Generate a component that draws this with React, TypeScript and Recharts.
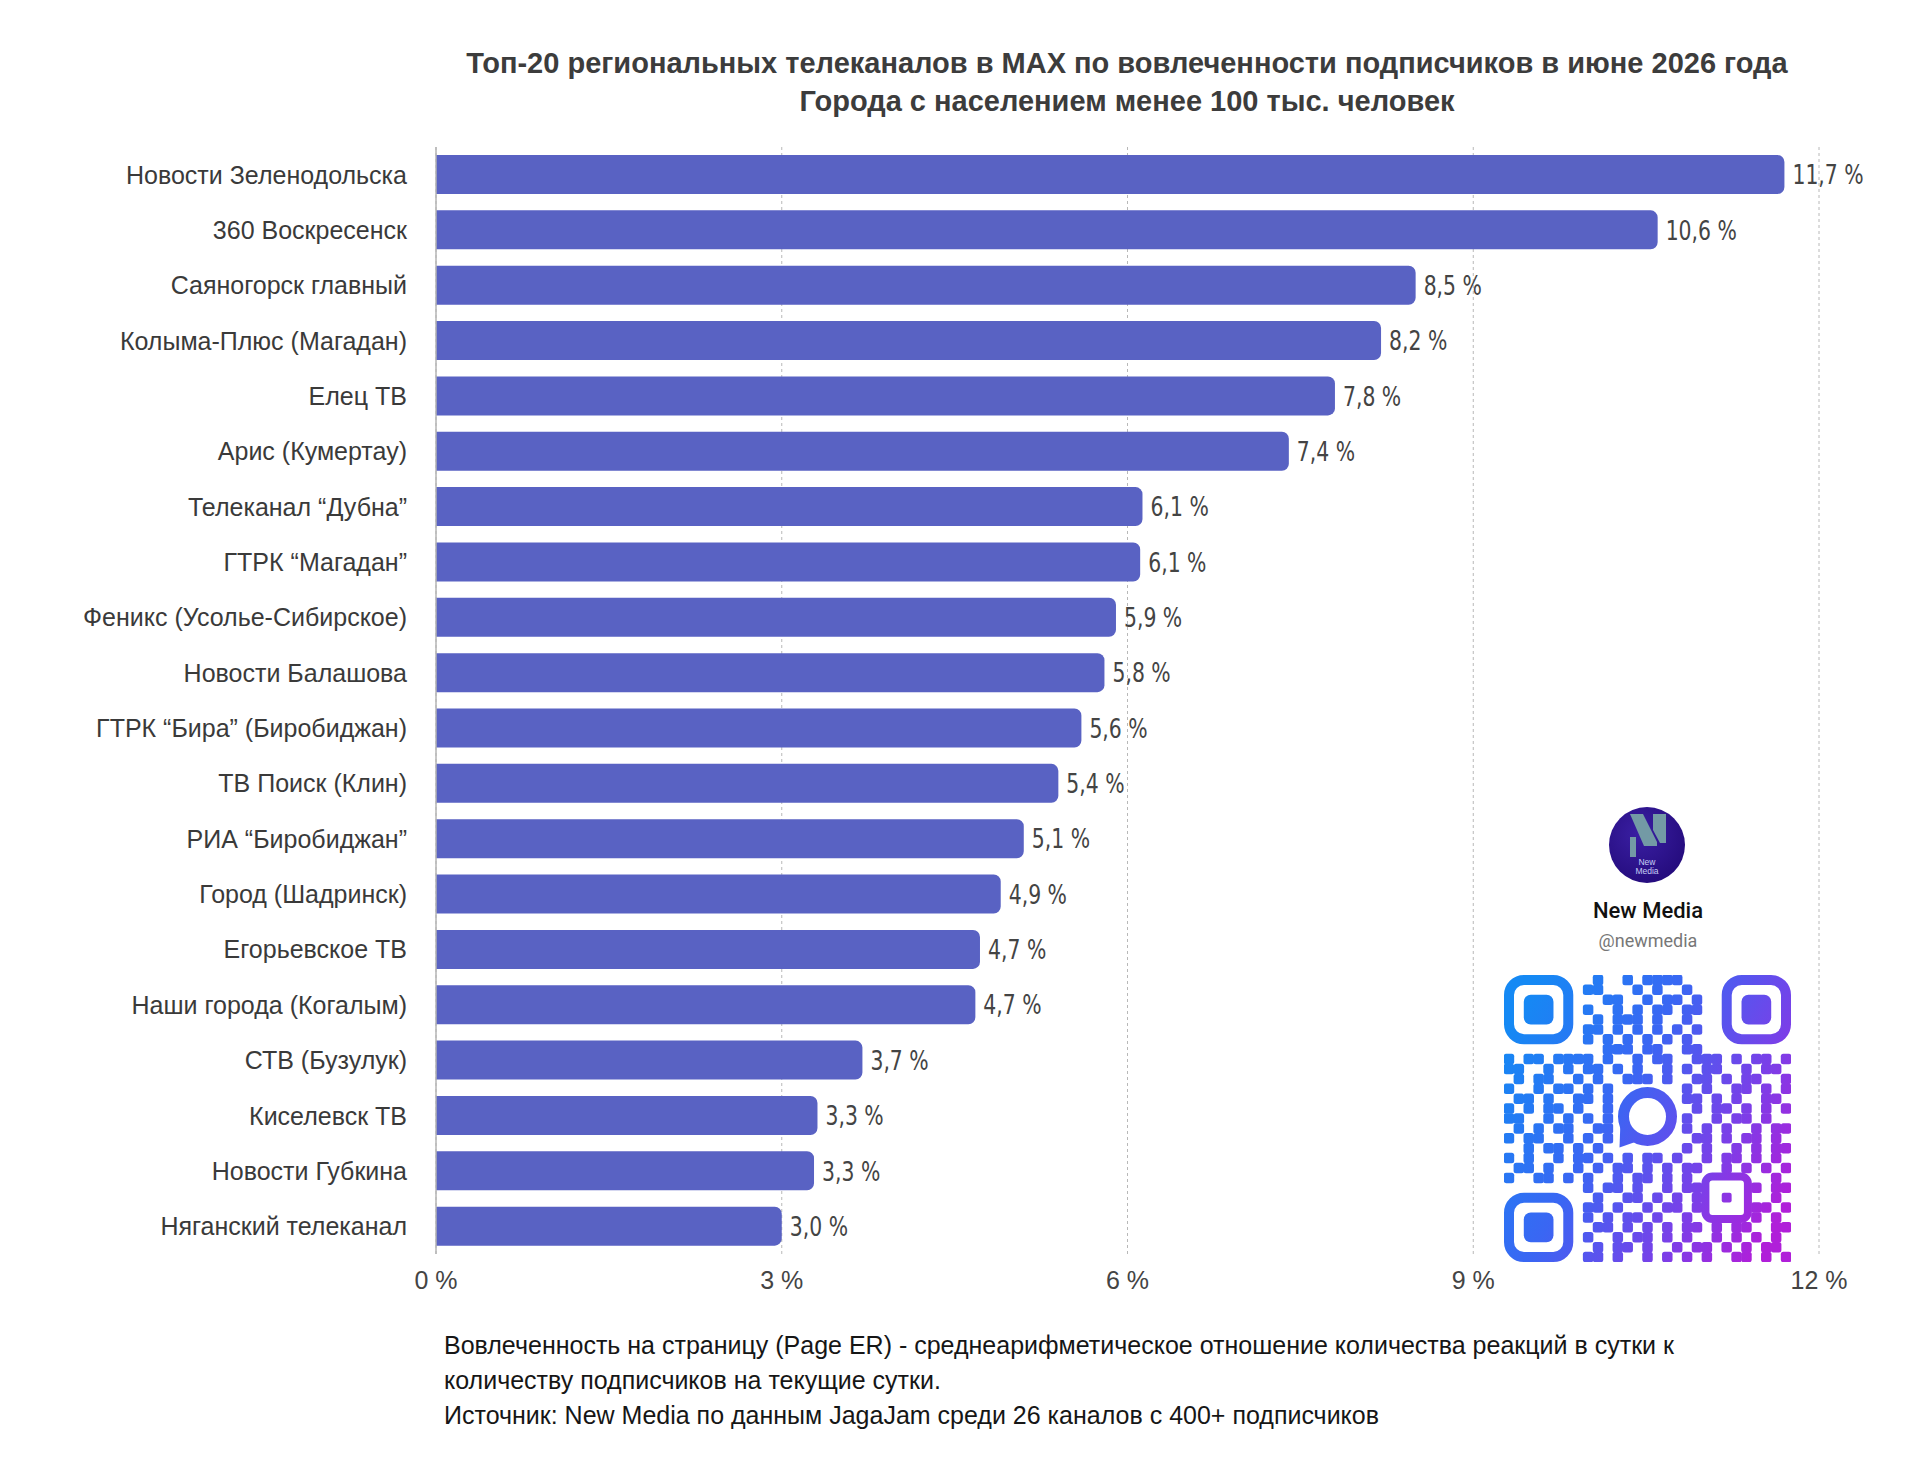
import React from "react";
import { Bar, BarChart, CartesianGrid, LabelList, XAxis, YAxis } from "recharts";

const channels = [
  "Новости Зеленодольска",
  "360 Воскресенск",
  "Саяногорск главный",
  "Колыма-Плюс (Магадан)",
  "Елец ТВ",
  "Арис (Кумертау)",
  "Телеканал “Дубна”",
  "ГТРК “Магадан”",
  "Феникс (Усолье-Сибирское)",
  "Новости Балашова",
  "ГТРК “Бира” (Биробиджан)",
  "ТВ Поиск (Клин)",
  "РИА “Биробиджан”",
  "Город (Шадринск)",
  "Егорьевское ТВ",
  "Наши города (Когалым)",
  "СТВ (Бузулук)",
  "Киселевск ТВ",
  "Новости Губкина",
  "Няганский телеканал",
];

const engagement = [11.7, 10.6, 8.5, 8.2, 7.8, 7.4, 6.13, 6.11, 5.9, 5.8, 5.6, 5.4, 5.1, 4.9, 4.72, 4.68, 3.7, 3.31, 3.28, 3.0];

const xTicks = [0, 3, 6, 9, 12];

const titleLines = [
  "Топ-20 региональных телеканалов в MAX по вовлеченности подписчиков в июне 2026 года",
  "Города с населением менее 100 тыс. человек",
];

const noteLines = [
  "Вовлеченность на страницу (Page ER) - среднеарифметическое отношение количества реакций в сутки к",
  "количеству подписчиков на текущие сутки.",
  "Источник: New Media по данным JagaJam среди 26 каналов с 400+ подписчиков",
];

// decorative qr pattern (hand drawn, finder / centre zones masked below)
const qrRows = [
  "mmmmmmmm.#..#.####..mmmmmmmm",
  "mmmmmmmm##...#.#..#.mmmmmmmm",
  "mmmmmmmm..##..#.##.#mmmmmmmm",
  "mmmmmmmm#..#.#.##.##mmmmmmmm",
  "mmmmmmmm.#.###.#..#.mmmmmmmm",
  "mmmmmmmm##.#.#.#.#.#mmmmmmmm",
  "mmmmmmmm#.#.#.#.#.#.mmmmmmmm",
  "mmmmmmmm..###.##..##mmmmmmmm",
  "#.##.####.#..#.##..###.#.##.#",
  "##..#.#.##.#.#..#.#.##..#.##.",
  ".#.##..#.#..###.#..##.#.##..#",
  "#..#.##.#.#.......#.#..##.#.#",
  ".##.#..##.#.......##.#.#..##.",
  "#.#.##.#..#........#.##.#.#.#",
  "##..#.#.#.#.......#..#.##.#..",
  ".#.#.##..##.......#.#.#..#.##",
  "#.##..#.#.#........##.#.##.#.",
  "..#.##.#.#.#......#.#..#.#.##",
  "#.#..#.##.#.#.##.#..#.##.#.#.",
  ".##.#..#.#.##.#.#.##..#.#.#.#",
  "#..##.#.#..#.##.#.#.##.##..#.",
  "mmmmmmmm#.##.#..#.##.#.#.#.##",
  "mmmmmmmm.#..##.#.#.#.##.#..#.",
  "mmmmmmmm##.#..#.##.#.#.#.##.#",
  "mmmmmmmm#.#.##.#..#.#..#.#.#.",
  "mmmmmmmm.##.#.#.#.##.#.##..##",
  "mmmmmmmm#..#.##.#.#..#.#.#.#.",
  "mmmmmmmm.#.##.#..#.##.#.#.##.",
  "mmmmmmmm##.#..#.#.#.#..##.#.#",
];

const data = channels.map((name, i) => ({ name, value: engagement[i] }));

const fmtPct = (v: number) => `${v.toFixed(1).replace(".", ",")} %`;

const QR_N = 29;
const QR_SIZE = 287;

function QrCode() {
  const m = QR_SIZE / QR_N;
  const cells: React.ReactNode[] = [];
  qrRows.forEach((row, r) => {
    const line = row.padEnd(QR_N, ".").slice(0, QR_N);
    for (let c = 0; c < QR_N; c++) {
      if (line[c] !== "#") continue;
      const inCentre = r >= 11 && r <= 17 && c >= 11 && c <= 17;
      const inAlign = r >= 20 && r <= 24 && c >= 20 && c <= 24;
      if (inCentre || inAlign) continue;
      cells.push(
        <rect key={`${r}-${c}`} x={c * m - 0.3} y={r * m - 0.3} width={m + 0.6} height={m + 0.6} rx={2.5} />
      );
    }
  });
  const finder = (cx: number, cy: number) => (
    <g key={`f${cx}-${cy}`}>
      <rect x={cx * m + 5} y={cy * m + 5} width={7 * m - 10} height={7 * m - 10} rx={15} fill="none" stroke="url(#qrGrad)" strokeWidth={10} />
      <rect x={(cx + 2) * m} y={(cy + 2) * m} width={3 * m} height={3 * m} rx={7} />
    </g>
  );
  const c0 = 14.5 * m;
  return (
    <svg width={QR_SIZE} height={QR_SIZE} style={{ position: "absolute", left: 1504, top: 975 }}>
      <defs>
        <linearGradient id="qrGrad" x1="0" y1="60" x2="287" y2="220" gradientUnits="userSpaceOnUse">
          <stop offset="0" stopColor="#1589f4" />
          <stop offset="0.4" stopColor="#3a66f3" />
          <stop offset="0.75" stopColor="#7b3fe8" />
          <stop offset="1" stopColor="#b01fd9" />
        </linearGradient>
      </defs>
      <g fill="url(#qrGrad)">
        {cells}
        {finder(0, 0)}
        {finder(22, 0)}
        {finder(0, 22)}
        <rect x={20 * m + 3.5} y={20 * m + 3.5} width={5 * m - 7} height={5 * m - 7} rx={7} fill="none" stroke="url(#qrGrad)" strokeWidth={8} />
        <rect x={22 * m} y={22 * m} width={m} height={m} rx={2} />
        <circle cx={c0} cy={c0 - 2} r={24} fill="none" stroke="url(#qrGrad)" strokeWidth={11} />
        <path d={`M ${c0 - 27} ${c0 + 2} L ${c0 - 28} ${c0 + 29} L ${c0 - 8} ${c0 + 22} Z`} />
      </g>
    </svg>
  );
}

function ChannelBadge() {
  return (
    <>
      <svg width={80} height={80} style={{ position: "absolute", left: 1607, top: 805 }}>
        <defs>
          <radialGradient id="logoGrad" cx="0.4" cy="0.35" r="0.7">
            <stop offset="0" stopColor="#3a1fa3" />
            <stop offset="1" stopColor="#240b7c" />
          </radialGradient>
        </defs>
        <circle cx={40} cy={40} r={38} fill="url(#logoGrad)" />
        <g fill="#739aa5">
          <rect x={23} y={32} width={6} height={20} />
          <polygon points="23,9 36,9 50,37 50,41 37,41" />
          <polygon points="46,9 59,9 59,38 53,38 46,25" />
        </g>
        <text x={40} y={60} textAnchor="middle" fontSize={8.5} fill="#c7cdf5" fontFamily="Liberation Sans, Arial, sans-serif">New</text>
        <text x={40} y={69} textAnchor="middle" fontSize={8.5} fill="#c7cdf5" fontFamily="Liberation Sans, Arial, sans-serif">Media</text>
      </svg>
      <div style={{ position: "absolute", left: 1648, top: 898, transform: "translateX(-50%)", whiteSpace: "nowrap", fontSize: 22, fontWeight: 500, color: "#111", fontFamily: "Roboto, 'Noto Sans', sans-serif" }}>
        New Media
      </div>
      <div style={{ position: "absolute", left: 1648, top: 930, transform: "translateX(-50%)", whiteSpace: "nowrap", fontSize: 18, color: "#777", fontFamily: "Roboto, 'Noto Sans', sans-serif" }}>
        @newmedia
      </div>
    </>
  );
}

// narrow value labels, like the condensed face in the original
const ValueLabel = (props: any) => {
  const { x, y, width, height, value } = props;
  const lx = Number(x) + Number(width) + 8;
  const ly = Number(y) + Number(height) / 2;
  return (
    <text
      transform={`translate(${lx},${ly}) scale(0.84,1)`}
      dy="0.36em"
      fontSize={27}
      fill="#444"
      fontFamily="'DejaVu Sans Condensed', 'DejaVu Sans', sans-serif"
    >
      {fmtPct(Number(value))}
    </text>
  );
};

export default function App() {
  return (
    <div style={{ position: "absolute", left: 0, top: 0, width: 1920, height: 1470, background: "#fff", fontFamily: "'Liberation Sans', Arial, sans-serif" }}>
      {titleLines.map((t, i) => (
        <div
          key={i}
          style={{
            position: "absolute",
            left: 1127,
            top: 44 + i * 38,
            transform: "translateX(-50%)",
            whiteSpace: "nowrap",
            fontSize: 29,
            lineHeight: "38px",
            fontWeight: 700,
            color: "#3c3c3c",
          }}
        >
          {t}
        </div>
      ))}

      <BarChart
        width={1920}
        height={1470}
        data={data}
        layout="vertical"
        margin={{ top: 147, right: 101, bottom: 176, left: 0 }}
        style={{ position: "absolute", left: 0, top: 0 }}
      >
        <CartesianGrid horizontal={false} stroke="#b8b8b8" strokeDasharray="3 3" />
        <XAxis
          type="number"
          domain={[0, 12]}
          ticks={xTicks}
          height={40}
          axisLine={false}
          tickLine={false}
          tickSize={0}
          tickMargin={17}
          tickFormatter={(v: number) => `${v} %`}
          tick={{ fontSize: 25, fill: "#444", fontFamily: "'Liberation Sans', Arial, sans-serif" }}
        />
        <YAxis
          type="category"
          dataKey="name"
          width={436}
          axisLine={{ stroke: "#b5b5b5", strokeWidth: 1.5 }}
          tickLine={false}
          tickSize={0}
          tickMargin={29}
          interval={0}
          tick={{ fontSize: 25, fill: "#3a3a3a", fontFamily: "'Liberation Sans', Arial, sans-serif" }}
        />
        <Bar dataKey="value" fill="#5962c3" barSize={39} radius={[0, 7, 7, 0]} isAnimationActive={false}>
          <LabelList dataKey="value" content={ValueLabel} />
        </Bar>
      </BarChart>

      <ChannelBadge />
      <QrCode />

      {noteLines.map((t, i) => (
        <div
          key={i}
          style={{
            position: "absolute",
            left: 444,
            top: 1328 + i * 35,
            whiteSpace: "nowrap",
            fontSize: 25,
            lineHeight: "35px",
            color: "#161616",
          }}
        >
          {t}
        </div>
      ))}
    </div>
  );
}
